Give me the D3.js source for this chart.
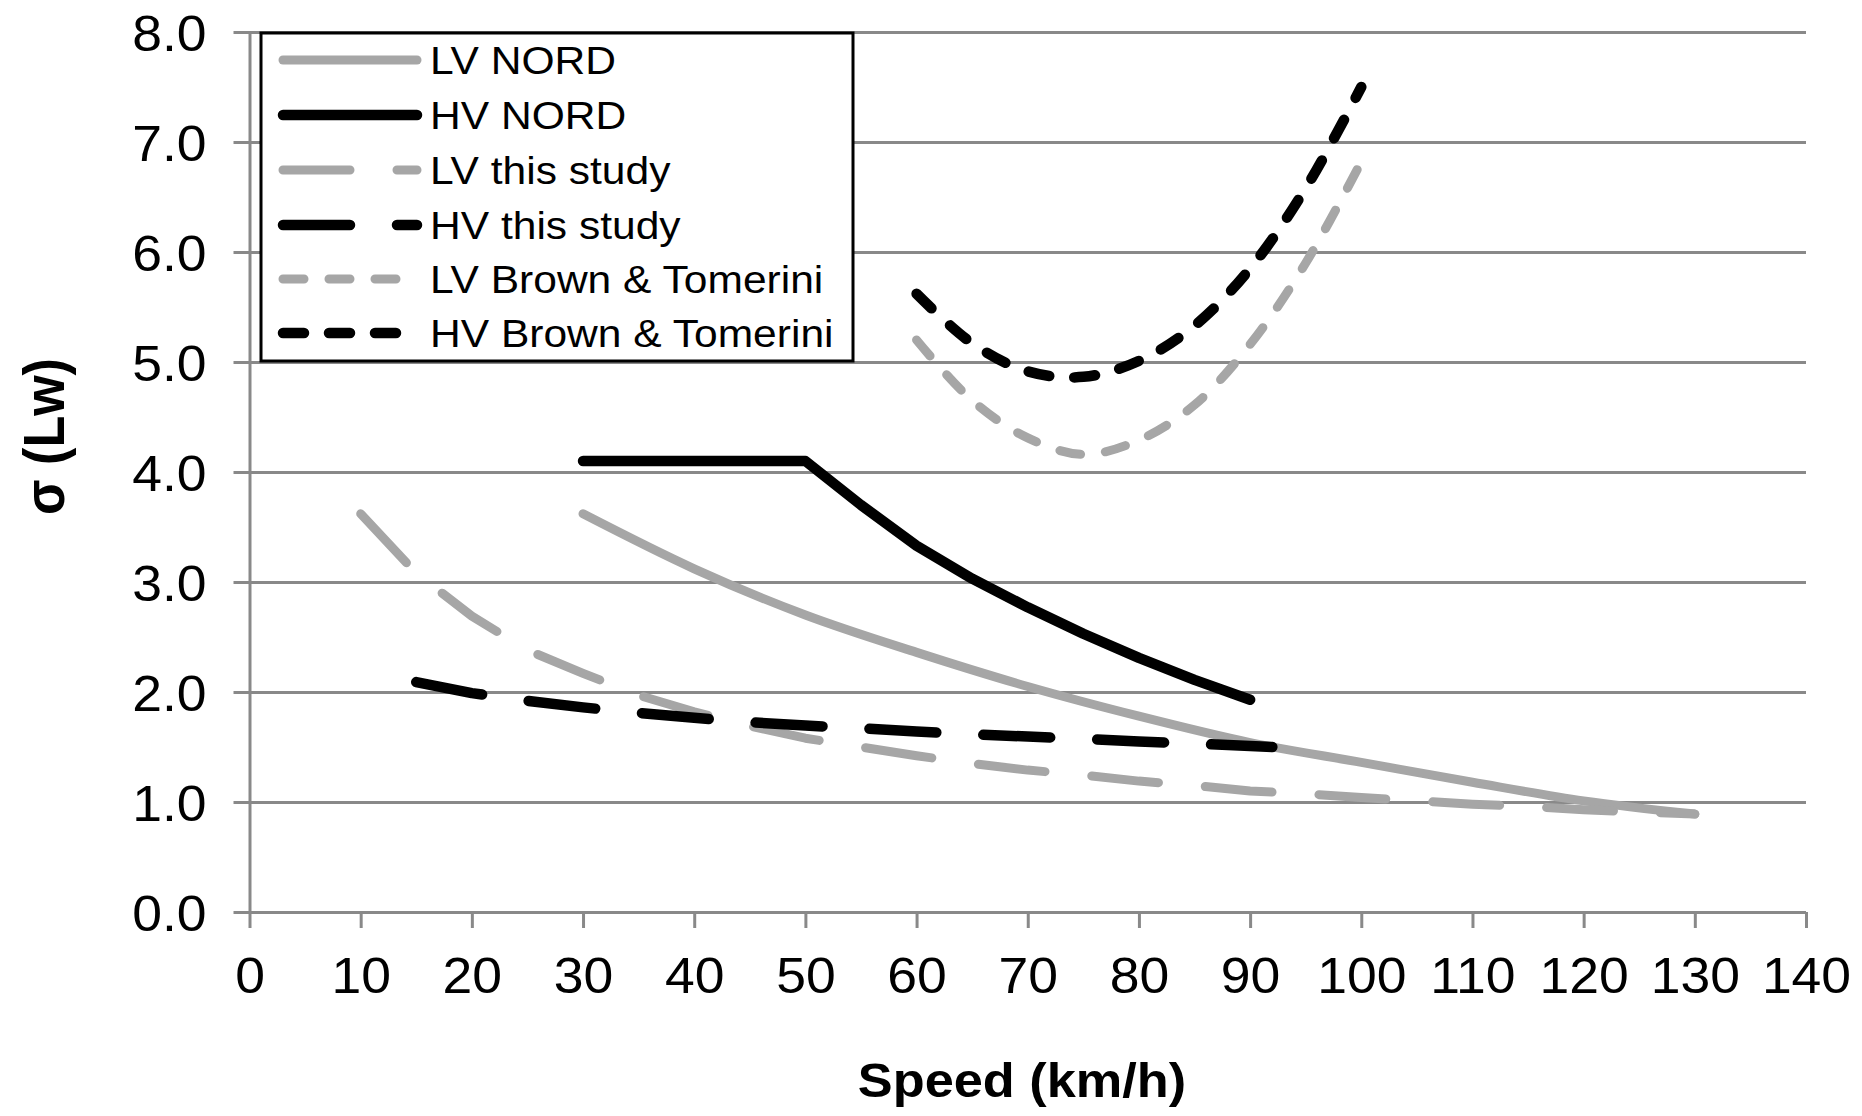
<!DOCTYPE html>
<html>
<head>
<meta charset="utf-8">
<script src="https://cdn.jsdelivr.net/npm/d3@7/dist/d3.min.js"></script>
<style>
  html, body { margin: 0; padding: 0; background: #fff; }
  svg { display: block; }
  text { font-family: "Liberation Sans", Arial, sans-serif; fill: #000; }
</style>
</head>
<body>
<div id="chart"></div>
<script>
// ---------- data ----------
const xTickValues = [0, 10, 20, 30, 40, 50, 60, 70, 80, 90, 100, 110, 120, 130, 140];
const yTickValues = [0, 1, 2, 3, 4, 5, 6, 7, 8];
const xTitle = "Speed (km/h)";
const yTitle = "σ (Lw)";

const seriesNames = ["LV NORD", "HV NORD", "LV this study", "HV this study", "LV Brown & Tomerini", "HV Brown & Tomerini"];

const lvNordSpeed = [30, 40, 50, 60, 70, 80, 90, 100, 110, 120, 130];
const lvNordSigma = [3.62, 3.12, 2.70, 2.36, 2.05, 1.78, 1.54, 1.36, 1.18, 1.01, 0.89];

const hvNordSpeed = [30, 50, 55, 60, 65, 70, 75, 80, 85, 90];
const hvNordSigma = [4.10, 4.10, 3.70, 3.33, 3.03, 2.77, 2.53, 2.31, 2.11, 1.93];

const lvStudySpeed = [10, 15, 20, 25, 30, 35, 40, 45, 50, 55, 60, 65, 70, 75, 80, 85, 90, 95, 100, 105, 110, 115, 120, 125, 130];
const lvStudySigma = [3.62, 3.08, 2.69, 2.38, 2.17, 1.97, 1.82, 1.69, 1.58, 1.50, 1.42, 1.35, 1.29, 1.245, 1.19, 1.15, 1.10, 1.075, 1.04, 1.01, 0.98, 0.96, 0.93, 0.91, 0.89];

const hvStudySpeed = [15, 20, 25, 30, 35, 40, 45, 50, 55, 60, 65, 70, 75, 80, 85, 90, 92];
const hvStudySigma = [2.09, 1.99, 1.92, 1.86, 1.81, 1.765, 1.725, 1.695, 1.67, 1.64, 1.615, 1.595, 1.575, 1.55, 1.53, 1.51, 1.50];

const btSpeed = [60, 65, 70, 75, 80, 85, 90, 95, 100];
const lvBtSigma = [5.20, 4.65, 4.31, 4.16, 4.29, 4.61, 5.16, 5.90, 6.82];
const hvBtSigma = [5.62, 5.17, 4.915, 4.865, 5.01, 5.33, 5.85, 6.58, 7.50];

// ---------- styles ----------
const GRAY = "#a6a6a6";
const BLACK = "#000000";
const GRID = "#898989";
const styles = [
  { color: GRAY,  width: 9,    dash: null,    curve: d3.curveMonotoneX },
  { color: BLACK, width: 10.5, dash: null,    curve: d3.curveLinear },
  { color: GRAY,  width: 9,    dash: "67,47", curve: d3.curveLinear },
  { color: BLACK, width: 10.5, dash: "67,47", curve: d3.curveLinear },
  { color: GRAY,  width: 9,    dash: "21,25", curve: d3.curveCatmullRom.alpha(0.5) },
  { color: BLACK, width: 10.5, dash: "21,25", curve: d3.curveCatmullRom.alpha(0.5) }
];
const seriesData = [
  d3.zip(lvNordSpeed, lvNordSigma),
  d3.zip(hvNordSpeed, hvNordSigma),
  d3.zip(lvStudySpeed, lvStudySigma),
  d3.zip(hvStudySpeed, hvStudySigma),
  d3.zip(btSpeed, lvBtSigma),
  d3.zip(btSpeed, hvBtSigma)
];

// ---------- layout ----------
const W = 1862, H = 1116;
const x = d3.scaleLinear().domain([0, 140]).range([249.5, 1806]);
const y = d3.scaleLinear().domain([0, 8]).range([912, 32]);

const svg = d3.select("#chart").append("svg")
  .attr("width", W).attr("height", H)
  .attr("viewBox", `0 0 ${W} ${H}`);

svg.append("rect").attr("width", W).attr("height", H).attr("fill", "#fff");

// y axis + gridlines
const yAxisG = svg.append("g")
  .attr("transform", `translate(${x(0)},0)`)
  .call(d3.axisLeft(y).tickValues(yTickValues).tickFormat(d => d.toFixed(1)).tickSize(16).tickSizeOuter(0));
yAxisG.select(".domain").attr("stroke", GRID).attr("stroke-width", 3);
yAxisG.selectAll(".tick line")
  .attr("x1", x(140) - x(0)).attr("x2", -16)
  .attr("stroke", GRID).attr("stroke-width", 3);
yAxisG.selectAll(".tick text")
  .attr("x", null).attr("dy", null)
  .attr("text-anchor", "end")
  .attr("font-family", null)
  .attr("font-size", 50)
  .attr("transform", "translate(-43,18) scale(1.07,1)");
yAxisG.attr("font-family", null).attr("font-size", null);

// x axis
const xAxisG = svg.append("g")
  .attr("transform", `translate(0,${y(0)})`)
  .call(d3.axisBottom(x).tickValues(xTickValues).tickFormat(d3.format("d")).tickSize(16).tickSizeOuter(0));
xAxisG.select(".domain").remove();
xAxisG.selectAll(".tick line").attr("stroke", GRID).attr("stroke-width", 3);
xAxisG.selectAll(".tick text")
  .attr("y", null).attr("dy", null)
  .attr("text-anchor", "middle")
  .attr("font-size", 50)
  .attr("transform", "translate(0,81) scale(1.07,1)");
xAxisG.attr("font-family", null).attr("font-size", null);

// series
const line = d3.line().x(d => x(d[0])).y(d => y(d[1]));
const seriesG = svg.append("g");
seriesData.forEach((pts, i) => {
  const s = styles[i];
  seriesG.append("path")
    .attr("d", line.curve(s.curve)(pts))
    .attr("fill", "none")
    .attr("stroke", s.color)
    .attr("stroke-width", s.width)
    .attr("stroke-linecap", "round")
    .attr("stroke-linejoin", "round")
    .attr("stroke-dasharray", s.dash);
});

// axis titles
svg.append("text")
  .attr("text-anchor", "middle")
  .attr("font-weight", "bold")
  .attr("font-size", 48)
  .attr("transform", "translate(1022,1097) scale(1.09,1)")
  .text(xTitle);

svg.append("text")
  .attr("text-anchor", "middle")
  .attr("font-weight", "bold")
  .attr("font-size", 52)
  .attr("transform", "translate(64,436.5) rotate(-90) scale(1,1.12)")
  .text(yTitle);

// legend
const legendRows = [60, 115, 170, 225, 279, 333];
const legendG = svg.append("g");
legendG.append("rect")
  .attr("x", 261).attr("y", 33).attr("width", 592).attr("height", 328)
  .attr("fill", "#fff").attr("stroke", "#000").attr("stroke-width", 3);
seriesNames.forEach((name, i) => {
  const s = styles[i];
  const cy = legendRows[i];
  legendG.append("line")
    .attr("x1", 283).attr("x2", 417).attr("y1", cy).attr("y2", cy)
    .attr("stroke", s.color).attr("stroke-width", s.width)
    .attr("stroke-linecap", "round")
    .attr("stroke-dasharray", s.dash);
  legendG.append("text")
    .attr("font-size", 38)
    .attr("transform", `translate(430,${cy + 14}) scale(1.12,1)`)
    .text(name);
});
</script>
</body>
</html>
